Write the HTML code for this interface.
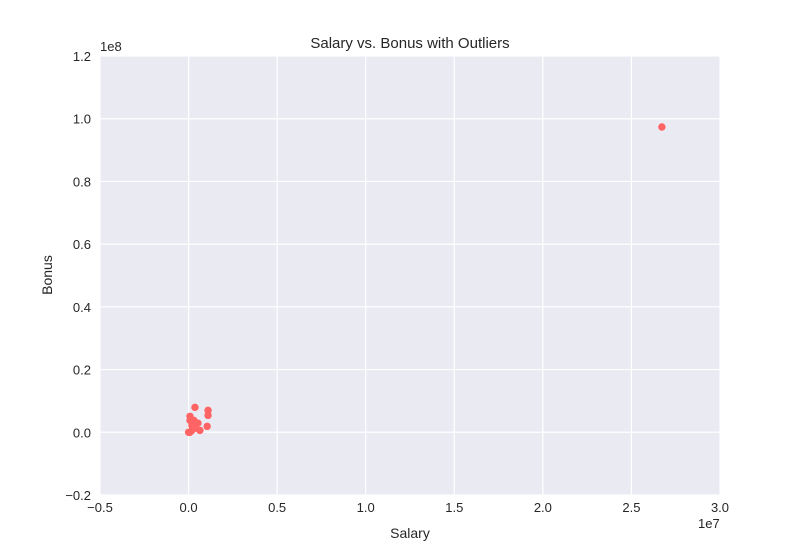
<!DOCTYPE html>
<html><head><meta charset="utf-8"><style>
body{margin:0;background:#fff;font-family:"Liberation Sans",sans-serif;}
svg text{font-family:"Liberation Sans",sans-serif;fill:#262626;}
</style></head><body>
<svg id="chart" width="800" height="550">
<text x="410" y="48" font-size="15" text-anchor="middle">Salary vs. Bonus with Outliers</text>
<rect x="100" y="56" width="620" height="439" fill="#EAEAF2"/>
<g id="grid"></g><g id="ticks"></g><g id="pts"></g>
<text x="410" y="538" font-size="14" text-anchor="middle">Salary</text>
<text x="52" y="275" font-size="14" text-anchor="middle" transform="rotate(-90 52 275)">Bonus</text>
<text x="100" y="51" font-size="13">1e8</text>
<text x="698" y="528" font-size="13">1e7</text>
</svg>
<script>
const salary=[360000,1100000,1100000,1050000,80000,80000,190000,80000,360000,640000,530000,300000,0,190000,26720000];
const bonus=[7950000,7000000,5400000,1900000,5100000,3800000,2200000,0,1300000,600000,2900000,3800000,0,600000,97360000];
const xTicks=[-0.5,0,0.5,1,1.5,2,2.5,3];
const yTicks=[-0.2,0,0.2,0.4,0.6,0.8,1,1.2];
const xTickLabels=["−0.5","0.0","0.5","1.0","1.5","2.0","2.5","3.0"];
const yTickLabels=["−0.2","0.0","0.2","0.4","0.6","0.8","1.0","1.2"];
const L=100,R=720,T=56,B=495;
const xs=v=>L+(v-(-0.5e7))/(3.5e7)*(R-L);
const ys=v=>B-(v-(-0.2e8))/(1.4e8)*(B-T);
const NS="http://www.w3.org/2000/svg";
const grid=document.getElementById('grid'),ticks=document.getElementById('ticks'),pts=document.getElementById('pts');
function mk(tag,attrs,parent){const e=document.createElementNS(NS,tag);for(const k in attrs)e.setAttribute(k,attrs[k]);parent.appendChild(e);return e;}
xTicks.forEach((t,i)=>{const x=xs(t*1e7);
 const l=mk('line',{x1:x,x2:x,y1:T,y2:B,stroke:'#fff','stroke-width':1.2},grid);
 
 
 const tx=mk('text',{x:x,y:512,'font-size':13,'text-anchor':'middle'},ticks);tx.textContent=xTickLabels[i];
 
 });
yTicks.forEach((t,i)=>{const y=ys(t*1e8);
 const l=mk('line',{x1:L,x2:R,y1:y,y2:y,stroke:'#fff','stroke-width':1.2},grid);
 
 
 const tx=mk('text',{x:91,y:y+5,'font-size':13,'text-anchor':'end'},ticks);tx.textContent=yTickLabels[i];
 
 });
salary.forEach((s,i)=>{const c=mk('circle',{cx:xs(s),cy:ys(bonus[i]),r:3.7,fill:'#FF6464'},pts);
 
 });
</script>
</body></html>
